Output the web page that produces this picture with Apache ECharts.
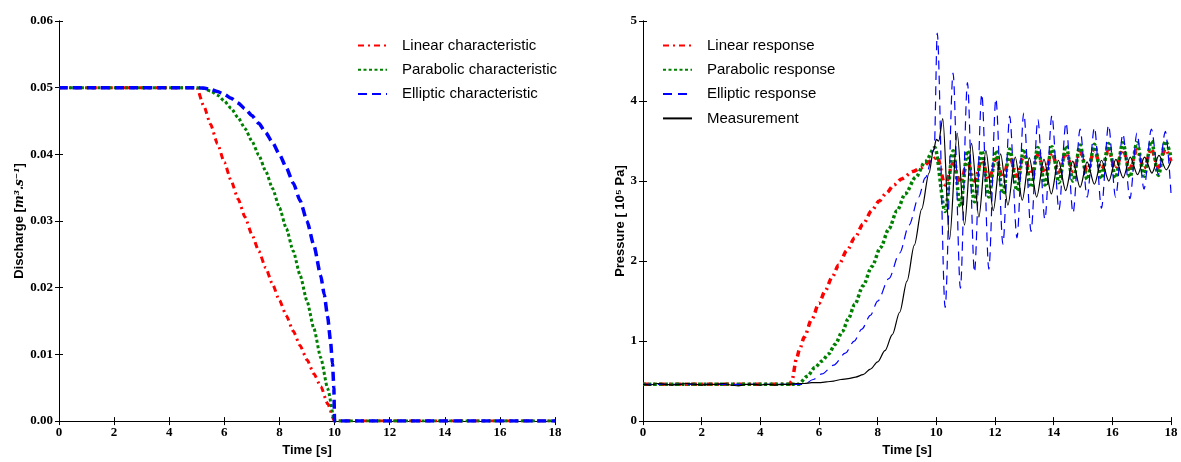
<!DOCTYPE html>
<html>
<head>
<meta charset="utf-8">
<script src="https://cdn.jsdelivr.net/npm/echarts@6/dist/echarts.min.js"></script>
<style>
html,body{margin:0;padding:0;background:#fff;}
#c{width:1181px;height:462px;}
</style>
</head>
<body>
<div id="c"></div>
<script>
// ---------- Left chart: discharge characteristics [t (s), Q (m3/s)] ----------
const linearChar = [[0,0.05],[5,0.05],[5.25,0.0473],[5.5,0.0445],[5.75,0.0416],[6,0.0388],[6.25,0.036],[6.5,0.0333],[6.75,0.0306],[7,0.028],[7.25,0.0255],[7.5,0.023],[7.75,0.0205],[8,0.0181],[8.25,0.0158],[8.5,0.0135],[8.75,0.0113],[9,0.0092],[9.25,0.0071],[9.5,0.0052],[9.75,0.0026],[10,0],[18,0]];
const parabolicChar = [[0,0.05],[5,0.05],[5.25,0.04988],[5.5,0.0495],[5.75,0.04888],[6,0.048],[6.25,0.04688],[6.5,0.0455],[6.75,0.04388],[7,0.042],[7.25,0.03988],[7.5,0.0375],[7.75,0.03488],[8,0.032],[8.25,0.02888],[8.5,0.0255],[8.75,0.02188],[9,0.018],[9.25,0.01388],[9.5,0.0095],[9.75,0.00488],[10,0],[18,0]];
const ellipticChar = [[0,0.05],[5,0.05],[5.25,0.04994],[5.5,0.04975],[5.75,0.04943],[6,0.04899],[6.25,0.04841],[6.5,0.0477],[6.75,0.04684],[7,0.04583],[7.25,0.04465],[7.5,0.0433],[7.75,0.04176],[8,0.04],[8.25,0.038],[8.5,0.03571],[8.75,0.03307],[9,0.03],[9.25,0.02634],[9.5,0.02179],[9.625,0.019],[9.75,0.01561],[9.85,0.01216],[9.925,0.00863],[9.975,0.005],[10,0],[18,0]];

// ---------- Right chart: pressure responses [t (s), p (10^5 Pa)] ----------
const linearResp = [[0,0.46],[5,0.46],[5.07,0.5],[5.24,0.79],[5.34,0.9],[5.5,1.05],[5.75,1.27],[6.0,1.47],[6.2,1.62],[6.45,1.8],[6.67,1.95],[6.95,2.13],[7.22,2.29],[7.5,2.46],[7.8,2.63],[8.05,2.75],[8.3,2.85],[8.55,2.95],[8.83,3.03],[9.2,3.12],[9.5,3.17],[9.8,3.25],[10.03,3.3],
 [10.3,2.95],[10.57,3.22],[10.82,2.98],[11.06,3.24],[11.3,3.0],[11.55,3.26],[11.79,3.02],[12.03,3.28],[12.27,3.04],[12.5,3.3],[12.75,3.06],[12.98,3.32],[13.23,3.08],[13.46,3.33],[13.7,3.1],[13.94,3.35],[14.18,3.11],[14.42,3.36],[14.66,3.12],[14.9,3.37],[15.14,3.13],[15.39,3.38],[15.63,3.14],[15.87,3.38],[16.11,3.15],[16.36,3.39],[16.6,3.16],[16.84,3.39],[17.08,3.16],[17.33,3.4],[17.57,3.17],[17.81,3.4],[18,3.25]];
const parabolicResp = [[0,0.46],[5.3,0.46],[5.6,0.56],[5.86,0.67],[6.1,0.75],[6.33,0.84],[6.55,0.96],[6.8,1.12],[7.0,1.28],[7.22,1.46],[7.5,1.69],[7.8,1.93],[8.1,2.17],[8.38,2.4],[8.66,2.63],[8.94,2.84],[9.3,3.05],[9.62,3.24],[9.95,3.42],
 [10.3,2.62],[10.57,3.38],[10.82,2.68],[11.06,3.38],[11.3,2.74],[11.55,3.38],[11.79,2.8],[12.03,3.38],[12.27,2.84],[12.5,3.4],[12.75,2.88],[12.98,3.4],[13.23,2.92],[13.46,3.42],[13.7,2.95],[13.94,3.43],[14.18,2.98],[14.42,3.44],[14.66,3.0],[14.9,3.45],[15.14,3.02],[15.39,3.46],[15.63,3.03],[15.87,3.47],[16.11,3.04],[16.36,3.48],[16.6,3.05],[16.84,3.48],[17.08,3.06],[17.33,3.5],[17.57,3.07],[17.81,3.5],[18,3.3]];
const ellipticResp = [[0,0.46],[5.5,0.46],[5.8,0.52],[6.1,0.59],[6.5,0.7],[6.9,0.85],[7.2,1.0],[7.46,1.15],[7.75,1.32],[8.0,1.5],[8.38,1.78],[8.75,2.1],[9.07,2.45],[9.4,2.8],[9.62,3.04],[9.93,3.4],
 [10.03,4.85],[10.3,1.42],[10.57,4.35],[10.82,1.66],[11.06,4.23],[11.3,1.86],[11.55,4.09],[11.79,1.9],[12.03,4.03],[12.27,2.21],[12.5,3.81],[12.75,2.29],[12.98,3.85],[13.23,2.37],[13.46,3.77],[13.7,2.52],[13.94,3.82],[14.18,2.64],[14.42,3.73],[14.66,2.6],[14.9,3.65],[15.14,2.8],[15.39,3.67],[15.63,2.66],[15.87,3.7],[16.11,2.8],[16.36,3.59],[16.6,2.78],[16.84,3.6],[17.08,2.9],[17.33,3.65],[17.57,3.08],[17.81,3.62],[18,2.85]];
const measurement = [[0,0.46],[0.25,0.45],[0.5,0.47],[0.75,0.46],[1,0.45],[1.25,0.46],[1.5,0.47],[1.75,0.46],[2,0.45],[2.25,0.46],[2.5,0.46],[2.75,0.47],[3,0.45],[3.25,0.44],[3.5,0.46],[3.75,0.46],[4,0.45],[4.25,0.46],[4.5,0.45],[4.75,0.46],[5,0.46],[5.25,0.47],[5.5,0.47],[5.75,0.48],[6,0.48],[6.25,0.49],[6.5,0.5],[6.75,0.52],[7,0.53],[7.25,0.55],[7.5,0.58],[7.75,0.65],[8,0.74],[8.25,0.88],[8.5,1.08],[8.75,1.36],[9,1.75],[9.25,2.2],[9.5,2.65],[9.75,3.1],[9.9,3.38],[10.0,3.52],[10.08,3.5],
 [10.22,3.78],[10.45,2.27],[10.71,3.6],[10.96,2.45],[11.2,3.47],[11.45,2.55],[11.69,3.38],[11.94,2.63],[12.19,3.34],[12.44,2.7],[12.69,3.3],[12.93,2.76],[13.17,3.29],[13.42,2.8],[13.67,3.27],[13.92,2.84],[14.16,3.26],[14.41,2.88],[14.65,3.25],[14.9,2.92],[15.14,3.24],[15.39,2.96],[15.63,3.26],[15.88,3.0],[16.12,3.27],[16.37,3.04],[16.61,3.3],[16.86,3.08],[17.1,3.3],[17.35,3.1],[17.59,3.32],[17.84,3.14],[18,3.25]];

const timeTicks = {min:0, max:18, interval:2};
const dischargeTicks = {min:0, max:0.06, interval:0.01};
const pressureTicks = {min:0, max:5, interval:1};

const tickFont = {fontFamily:'Liberation Serif', fontWeight:'bold', fontSize:13, color:'#000'};
const nameFont = {fontFamily:'Liberation Sans', fontWeight:'bold', fontSize:13, color:'#000'};
const line = {lineStyle:{color:'#000', width:1}};

function xAx(grid, pos, sc, withName){
  return Object.assign({type:'value', gridIndex:grid, position:pos, splitLine:{show:false},
    axisLine:line, axisTick:{inside:true, length:4, lineStyle:{color:'#000'}},
    axisLabel: pos==='bottom' ? Object.assign({margin:5, formatter:v=>String(v)}, tickFont) : {show:false},
    name: withName ? 'Time [s]' : '', nameLocation:'middle', nameGap:19, nameTextStyle:nameFont}, sc);
}
function yAx(grid, pos, sc, name, fmt, gap, rich){
  return Object.assign({type:'value', gridIndex:grid, position:pos, splitLine:{show:false},
    axisLine:line, axisTick:{inside:true, length:4, lineStyle:{color:'#000'}},
    axisLabel: pos==='left' ? Object.assign({margin:6, formatter:fmt}, tickFont) : {show:false},
    name: name, nameLocation:'middle', nameGap:gap, nameTextStyle:Object.assign({rich:rich||{}}, nameFont)}, sc);
}

const RED='#ff0000', GREEN='#008000', BLUE='#0000ff';
function ser(name, data, xi, yi, color, width, type, smooth){
  return {name, type:'line', data, xAxisIndex:xi, yAxisIndex:yi, showSymbol:false, symbol:'none',
    smooth:smooth, smoothMonotone:'x', animation:false,
    lineStyle:{color, width, type}, itemStyle:{color}};
}
const legendCommon = {orient:'vertical', itemWidth:29, itemHeight:14, itemGap:9.3,
  itemStyle:{color:'rgba(0,0,0,0)', borderColor:'rgba(0,0,0,0)', borderWidth:0, opacity:0},
  textStyle:{fontFamily:'Liberation Sans', fontSize:15, color:'#000', padding:[0,0,0,10]}};

const chart = echarts.init(document.getElementById('c'), null, {renderer:'canvas'});
chart.setOption({
  backgroundColor:'#fff',
  animation:false,
  grid:[
    {left:59, top:21, width:496, height:409},
    {left:643, top:21, width:528, height:409}
  ],
  xAxis:[ xAx(0,'bottom',timeTicks,true), xAx(0,'top',timeTicks,false), xAx(1,'bottom',timeTicks,true), xAx(1,'top',timeTicks,false) ],
  yAxis:[
    yAx(0,'left',dischargeTicks,'Discharge [{it|m³.s⁻¹}]', v=>v.toFixed(2), 32, {it:{fontFamily:'DejaVu Serif', fontStyle:'italic', fontSize:12, color:'#000'}}),
    yAx(0,'right',dischargeTicks,'',null,0),
    yAx(1,'left',pressureTicks,'Pressure [ 10⁵ Pa]', v=>String(v), 16),
    yAx(1,'right',pressureTicks,'',null,0)
  ],
  legend:[
    Object.assign({left:352, top:33, data:['Linear characteristic','Parabolic characteristic','Elliptic characteristic']}, legendCommon),
    Object.assign({left:657, top:33, data:['Linear response','Parabolic response','Elliptic response','Measurement']}, legendCommon)
  ],
  series:[
    ser('Linear characteristic', linearChar, 0, 0, RED, 3, [6,4,2,4], 0.2),
    ser('Parabolic characteristic', parabolicChar, 0, 0, GREEN, 3, [3,2.5], 0.2),
    ser('Elliptic characteristic', ellipticChar, 0, 0, BLUE, 3.5, [9,5], 0.2),
    ser('Linear response', linearResp, 2, 2, RED, 3.5, [6,4,2,4], 0.3),
    ser('Parabolic response', parabolicResp, 2, 2, GREEN, 3.5, [3,2.5], 0.3),
    ser('Elliptic response', ellipticResp, 2, 2, BLUE, 1.2, [9,6], 0.3),
    ser('Measurement', measurement, 2, 2, '#000', 1.2, 'solid', 0.3)
  ]
});
</script>
</body>
</html>
